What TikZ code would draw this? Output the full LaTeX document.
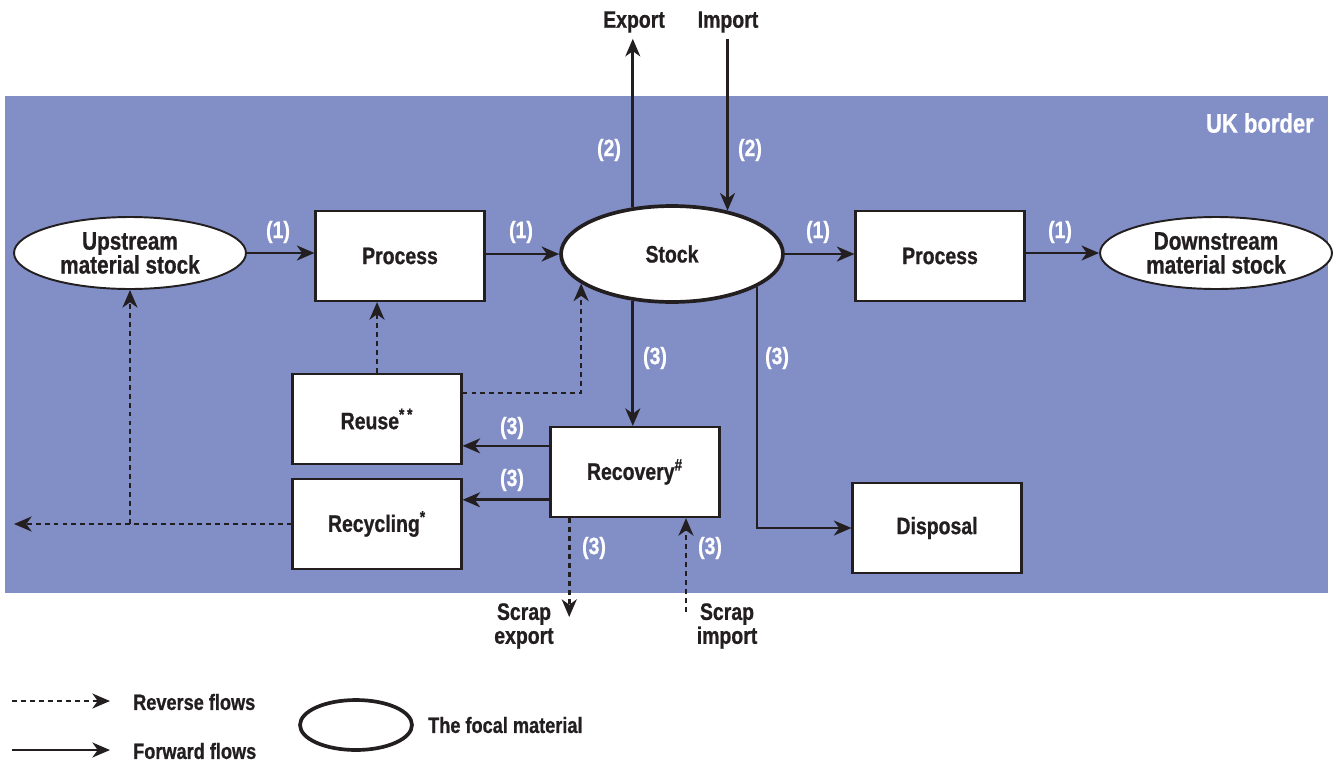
\documentclass[tikz,border=0pt]{standalone}
\usepackage{fontspec}
\setmainfont[FakeStretch=0.82, BoldFeatures={FakeBold=0.8}]{Liberation Sans}
\usetikzlibrary{positioning,shapes.geometric,arrows.meta}
\definecolor{ukblue}{RGB}{130,143,199}
\definecolor{ink}{RGB}{35,31,32}
\pgfdeclarelayer{back}
\pgfdeclarelayer{flows}
\pgfsetlayers{back,flows,main}
\tikzset{
  txt/.style={font=\bfseries\fontsize{13.5}{13.6}\selectfont, text=ink, align=center},
  small/.style={txt, font=\bfseries\fontsize{12.6}{13}\selectfont},
  box/.style={txt, draw=ink, fill=white, line width=1.2pt, minimum width=3.38cm, minimum height=1.8cm},
  matell/.style={txt, font=\bfseries\fontsize{14.4}{13.6}\selectfont, ellipse, draw=ink, fill=white, line width=1.1pt, inner sep=0pt, minimum width=4.64cm, minimum height=1.44cm},
  focal/.style={txt, ellipse, draw=ink, fill=white, line width=2.1pt, inner sep=0pt, minimum width=4.44cm, minimum height=1.92cm},
  fwd/.style={draw=ink, line width=1.5pt, -{Stealth[length=10pt,width=8.5pt,inset=3pt]}},
  rev/.style={fwd, dash pattern=on 2.8pt off 2.3pt},
  lbl/.style={font=\bfseries\fontsize{13.5}{14}\selectfont, text=white},
}

\begin{document}
\begin{tikzpicture}[x=0.02cm, y=-0.02cm]
    \useasboundingbox (0,0) rectangle (1334,761);

    % UK border
    \begin{pgfonlayer}{back}
      \fill[ukblue] (5,96) rectangle (1328,593);
    \end{pgfonlayer}
    \node[lbl, font=\bfseries\fontsize{15.3}{16}\selectfont, anchor=east] (uk) at (1320,123) {UK border};

    % Stocks and processes
    \node[matell] (up) at (130,253) {Upstream\\material stock};
    \node[box] (p1) at (400,256) {Process};
    \node[focal] (stock) at (672,254) {Stock};
    \node[box] (p2) at (940,256) {Process};
    \node[matell] (down) at (1216,253) {Downstream\\material stock};
    \node[box] (reuse) at (377,419) {Reuse\textsuperscript{*\,*}};
    \node[box] (recyc) at (377,524) {Recycling\textsuperscript{*}};
    \node[box] (rec) at (635,472) {Recovery\textsuperscript{\#}};
    \node[box] (disp) at (937,528) {Disposal};

    % Outside the border
    \node[txt] (exp) at (634,22) {Export};
    \node[txt] (imp) at (728,22) {Import};
    \node[txt] (sexp) at (524,626) {Scrap\\export};
    \node[txt] (simp) at (727,626) {Scrap\\import};
    \coordinate (lft) at (14,524);
    \coordinate (sx) at (571,617);
    \coordinate (si) at (686,612);

    % Forward flows
    \begin{pgfonlayer}{flows}
      \draw[fwd] (up.east) -- (up.east -| p1.west);
      \draw[fwd] (p1.east |- stock.west) -- (stock.west);
      \draw[fwd] (stock.east) -- (stock.east -| p2.west);
      \draw[fwd] (p2.east |- down.west) -- (down.west);
      \draw[fwd] (stock.130) -- (stock.130 |- exp.south);
      \draw[fwd] (stock.38 |- imp.south) -- (stock.38);
      \draw[fwd] (stock.-130) -- (stock.-130 |- rec.north);
      \draw[fwd] (stock.-21.5) |- (disp.west);
      \draw[fwd] (rec.163.6) -- (rec.163.6 -| reuse.east);
      \draw[fwd] (rec.-162.4) -- (rec.-162.4 -| recyc.east);

      % Reverse flows
      \draw[rev] (reuse.north) -- (reuse.north |- p1.south);
      \draw[rev] (reuse.17) -| (stock.-162);
      \draw[rev] (recyc.west) -- (lft);
      \draw[rev] (up.south |- recyc.west) -- (up.south);
      \draw[rev] (rec.-145) -- (rec.-145 |- sx);
      \draw[rev] (si) -- (si |- rec.south);
    \end{pgfonlayer}

    % Flow numbers
    \foreach \n/\x/\y/\t in {a/278/232/1, b/521/232/1, c/818/232/1, d/1060/232/1,
                             e/609/150/2, f/750/150/2,
                             g/655/358/3, h/777/358/3, i/512/428/3, j/512/480/3, k/594/548/3, l/710/548/3} {
      \node[lbl] (n\n) at (\x,\y) {(\t)};
    }

    % Legend
    \coordinate (ra) at (12,701);
    \coordinate (rb) at (110,701);
    \coordinate (fa) at (12,750);
    \coordinate (fb) at (110,750);
    \draw[rev] (ra) -- (rb);
    \draw[fwd] (fa) -- (fb);
    \node[small, anchor=west] (revtxt) at (127,702) {Reverse flows};
    \node[small, anchor=west] (fwdtxt) at (127,751) {Forward flows};
    \node[focal, minimum width=2.24cm, minimum height=1cm] (lgell) at (356,725) {};
    \node[small, anchor=west] (focaltxt) at (422,725) {The focal material};
\end{tikzpicture}
\end{document}
